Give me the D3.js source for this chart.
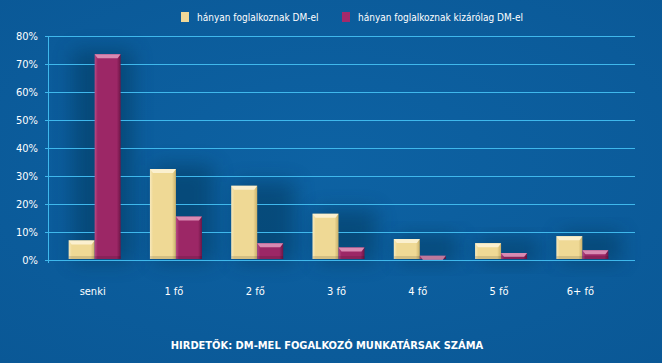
<!DOCTYPE html>
<html>
<head>
<meta charset="utf-8">
<script src="https://cdn.jsdelivr.net/npm/d3@7"></script>
<style>
  body { margin: 0; background: #0b5c9c; }
  text { font-family: "Liberation Sans Narrow", "DejaVu Sans Condensed", sans-serif; fill: #fff; }
</style>
</head>
<body>
<div id="chart"></div>
<script>
// data
var categories = ["senki", "1 fő", "2 fő", "3 fő", "4 fő", "5 fő", "6+ fő"];
var seriesNames = ["hányan foglalkoznak DM-el", "hányan foglalkoznak kizárólag DM-el"];
var dmEl = [7, 32.5, 26.5, 16.5, 7.5, 6, 8.5];
var csakDmEl = [73.5, 15.5, 6, 4.5, 1.5, 2.5, 3.5];
var yTicks = [0, 10, 20, 30, 40, 50, 60, 70, 80];

var width = 662, height = 363;
var margin = {top: 36, left: 48, right: 27, bottom: 103};

var svg = d3.select("#chart").append("svg")
  .attr("width", width)
  .attr("height", height);

var defs = svg.append("defs");

var bg = defs.append("radialGradient").attr("id", "bg")
  .attr("cx", "50%").attr("cy", "45%").attr("r", "75%");
bg.append("stop").attr("offset", "0%").attr("stop-color", "#0d62a3");
bg.append("stop").attr("offset", "100%").attr("stop-color", "#0a5896");

defs.append("filter").attr("id", "blur")
  .attr("x", "-50%").attr("y", "-50%").attr("width", "200%").attr("height", "200%")
  .append("feGaussianBlur").attr("stdDeviation", 10);

function faceGrad(id, light, mid, dark) {
  var g = defs.append("linearGradient").attr("id", id)
    .attr("x1", "0%").attr("x2", "100%").attr("y1", "0%").attr("y2", "0%");
  g.append("stop").attr("offset", "0%").attr("stop-color", light);
  g.append("stop").attr("offset", "12%").attr("stop-color", mid);
  g.append("stop").attr("offset", "85%").attr("stop-color", mid);
  g.append("stop").attr("offset", "100%").attr("stop-color", dark);
}
faceGrad("gy", "#f7e9bd", "#efd995", "#c9b06a");
faceGrad("gm", "#b84a84", "#9c2766", "#6e1546");

var colors = [{face: "url(#gy)", top: "#fbf0cf", legend: "#f0d898"},
              {face: "url(#gm)", top: "#d98ab2", legend: "#a32a6b"}];

svg.append("rect").attr("width", width).attr("height", height).attr("fill", "url(#bg)");

var x = d3.scaleBand().domain(categories).range([54, 623]).paddingInner(0);
var xs = d3.scaleBand().domain([0, 1]).range([0, 52]);
var y = d3.scaleLinear().domain([0, 80]).range([260, margin.top]);

var rows = categories.map(function(c, i) { return {cat: c, vals: [dmEl[i], csakDmEl[i]]}; });

// soft shadows behind bars
svg.append("g").selectAll("rect")
  .data(rows).enter().append("rect")
    .attr("x", function(d) { return x(d.cat) + x.bandwidth() / 2 - 22; })
    .attr("y", function(d) { return y(d3.max(d.vals)) - 4; })
    .attr("width", 60)
    .attr("height", function(d) { return 260 - y(d3.max(d.vals)) + 6; })
    .attr("fill", "#04304f")
    .attr("opacity", 0.45)
    .attr("filter", "url(#blur)");

// gridlines
svg.append("g").selectAll("line")
  .data(yTicks).enter().append("line")
    .attr("x1", margin.left).attr("x2", 635)
    .attr("y1", function(d) { return y(d) + 0.5; })
    .attr("y2", function(d) { return y(d) + 0.5; })
    .attr("stroke", "#3fb8ec").attr("stroke-width", 1);

svg.append("line")
  .attr("x1", margin.left + 0.5).attr("x2", margin.left + 0.5)
  .attr("y1", y(80)).attr("y2", y(0) + 3)
  .attr("stroke", "#3fb8ec");

svg.append("g").selectAll("line")
  .data(yTicks).enter().append("line")
    .attr("x1", margin.left - 3).attr("x2", margin.left)
    .attr("y1", function(d) { return y(d) + 0.5; })
    .attr("y2", function(d) { return y(d) + 0.5; })
    .attr("stroke", "#3fb8ec");

// y tick labels
svg.append("g").selectAll("text")
  .data(yTicks).enter().append("text")
    .attr("x", 38)
    .attr("y", function(d) { return y(d) + 4; })
    .attr("text-anchor", "end")
    .style("font-size", "11px")
    .text(function(d) { return d + "%"; });

// bars
var groups = svg.append("g").selectAll("g")
  .data(rows).enter().append("g")
    .attr("transform", function(d) { return "translate(" + (x(d.cat) + (x.bandwidth() - 52) / 2) + ",0)"; });

var bars = groups.selectAll("g")
  .data(function(d) { return d.vals.map(function(v, k) { return {k: k, v: v}; }); })
  .enter().append("g");

bars.append("rect")
  .attr("x", function(d) { return xs(d.k); })
  .attr("y", function(d) { return y(d.v); })
  .attr("width", xs.bandwidth())
  .attr("height", function(d) { return 259 - y(d.v); })
  .attr("fill", function(d) { return colors[d.k].face; });

bars.append("path")
  .attr("d", function(d) {
    var x0 = xs(d.k), x1 = x0 + xs.bandwidth(), t = y(d.v), h = 4;
    return "M" + x0 + "," + t + "L" + x1 + "," + t + "L" + (x1 - 3) + "," + (t + h) + "L" + (x0 + 3) + "," + (t + h) + "Z";
  })
  .attr("fill", function(d) { return colors[d.k].top; });

bars.append("rect")
  .attr("x", function(d) { return xs(d.k); })
  .attr("y", 256)
  .attr("width", xs.bandwidth())
  .attr("height", 3)
  .attr("fill", "#000")
  .attr("opacity", 0.12);

// x labels
svg.append("g").selectAll("text")
  .data(categories).enter().append("text")
    .attr("x", function(d) { return x(d) + x.bandwidth() / 2 - 2; })
    .attr("y", 295)
    .attr("text-anchor", "middle")
    .style("font-size", "11px")
    .text(function(d) { return d; });

// legend
var legendX = [181, 342];
var lg = svg.append("g").selectAll("g")
  .data(seriesNames).enter().append("g")
    .attr("transform", function(d, i) { return "translate(" + legendX[i] + ",12)"; });
lg.append("rect").attr("width", 8).attr("height", 10)
  .attr("fill", function(d, i) { return colors[i].legend; });
lg.append("text").attr("x", 16).attr("y", 9)
  .style("font-size", "10px")
  .text(function(d) { return d; });

// title
svg.append("text")
  .attr("x", 327).attr("y", 349)
  .attr("text-anchor", "middle")
  .style("font-size", "11px").style("font-weight", "bold")
  .text("HIRDETŐK: DM-MEL FOGALKOZÓ MUNKATÁRSAK SZÁMA");
</script>
</body>
</html>
